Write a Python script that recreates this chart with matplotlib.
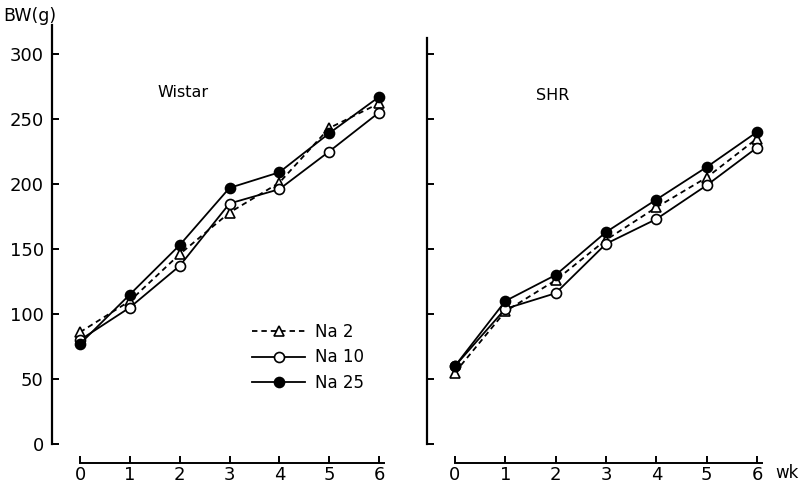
import numpy as np
import matplotlib.pyplot as plt

weeks = [0, 1, 2, 3, 4, 5, 6]
labels = ["Na 2", "Na 10", "Na 25"]

# Wistar body weight (g)
wistar_na2 = [86, 110, 146, 178, 201, 243, 262]
wistar_na10 = [80, 105, 137, 185, 196, 225, 255]
wistar_na25 = [77, 115, 153, 197, 209, 239, 267]

# SHR body weight (g)
shr_na2 = [55, 102, 126, 157, 182, 205, 235]
shr_na10 = [60, 104, 116, 154, 173, 199, 228]
shr_na25 = [60, 110, 130, 163, 188, 213, 240]

yticks = [0, 50, 100, 150, 200, 250, 300]

W, H = 801, 497
fig = plt.figure(figsize=(W / 100, H / 100), dpi=100)
plt.rcParams["font.family"] = "DejaVu Sans"

styles = [
    dict(ls=(0, (3, 2.2)), marker="^", mfc="white", mec="black", ms=7, mew=1.2),
    dict(ls="-", marker="o", mfc="white", mec="black", ms=7.2, mew=1.2),
    dict(ls="-", marker="o", mfc="black", mec="black", ms=7.2, mew=1.2),
]


def make_axes(left_px, right_px, x0_px, x6_px, top_val):
    ax = fig.add_axes([left_px / W, (H - 463) / H,
                       (right_px - left_px) / W, (463 - 25) / H])
    per = (x6_px - x0_px) / 6
    ax.set_xlim((left_px - x0_px) / per, (right_px - x0_px) / per)
    ax.set_ylim(-(463 - 444) / 1.3, (444 - 25) / 1.3)
    for s in ["top", "right"]:
        ax.spines[s].set_visible(False)
    ax.spines["left"].set_bounds(0, top_val)
    ax.spines["bottom"].set_bounds(0, 6.1)
    ax.spines["left"].set_linewidth(1.6)
    ax.spines["bottom"].set_linewidth(1.4)
    ax.tick_params(direction="in", length=5, width=1.4, labelsize=13)
    ax.tick_params(axis="y", pad=6)
    ax.tick_params(axis="x", pad=2)
    ax.set_xticks(weeks)
    ax.set_yticks(yticks)
    ax.patch.set_alpha(0)
    return ax


ax1 = make_axes(52, 386, 80, 379, 322)
ax2 = make_axes(427, 765, 455, 757, 312)
ax2.tick_params(axis="y", labelleft=False)

for ax, series in [(ax1, [wistar_na2, wistar_na10, wistar_na25]),
                   (ax2, [shr_na2, shr_na10, shr_na25])]:
    for vals, st, lab in zip(series, styles, labels):
        ax.plot(weeks, vals, color="black", lw=1.3, label=lab, clip_on=False, **st)

ax1.text(0.392, 0.845, "Wistar", transform=ax1.transAxes, fontsize=11.5,
         ha="center", va="center")
ax2.text(0.373, 0.84, "SHR", transform=ax2.transAxes, fontsize=11.5,
         ha="center", va="center")

fig.text(30 / W, 1 - 16 / H, "BW(g)", fontsize=12.5, ha="center", va="center")
fig.text(787 / W, 1 - 473 / H, "wk", fontsize=12, ha="center", va="center")

leg = ax1.legend(loc="upper left", bbox_to_anchor=(252 / W, 1 - 323 / H),
                 bbox_transform=fig.transFigure, frameon=False, fontsize=12,
                 handlelength=3.2, handletextpad=0.6, labelspacing=0.45,
                 borderaxespad=0, borderpad=0)

fig.savefig("out.png", dpi=100)
